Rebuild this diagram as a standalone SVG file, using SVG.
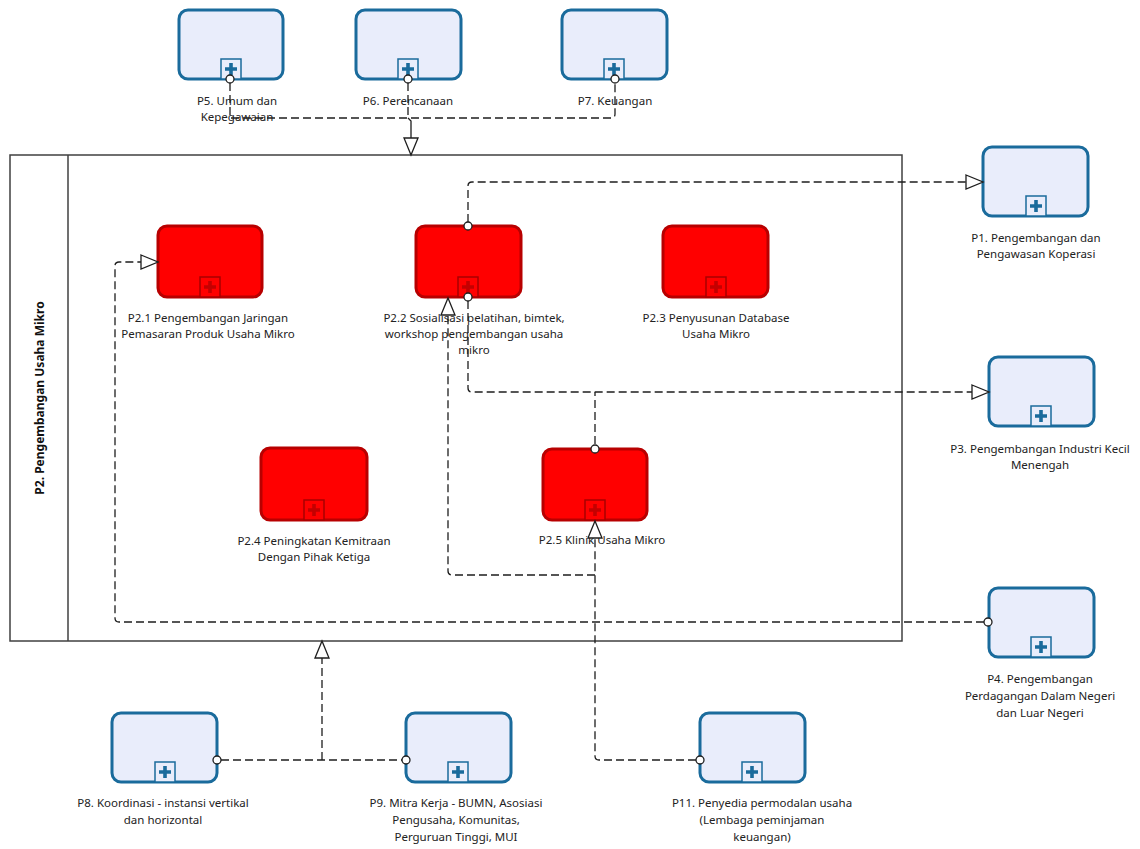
<svg xmlns="http://www.w3.org/2000/svg" xmlns:xlink="http://www.w3.org/1999/xlink" width="1140" height="849" viewBox="0 0 1140 849">
<style>
.bn{fill:#e9edfb;stroke:#1a6b9c;stroke-width:3}
.rn{fill:#ff0000;stroke:#b80000;stroke-width:3}
.lbl{font-family:"Noto Sans","Open Sans",sans-serif;font-size:11.5px;fill:#222;text-anchor:middle}
.cn{fill:none;stroke:#1e1e1e;stroke-width:1.3;stroke-dasharray:8,4}
.sl{fill:none;stroke:#1e1e1e;stroke-width:1.3}
.dot{fill:#fff;stroke:#1e1e1e;stroke-width:1.3}
.pool{fill:#fff;stroke:#404040;stroke-width:1.5}
</style>
<defs>
<marker id="arr" markerUnits="userSpaceOnUse" markerWidth="20" markerHeight="16" viewBox="0 0 20 16" refX="18" refY="8" orient="auto">
<path d="M1,1 L18,8 L1,15 Z" fill="#fff" stroke="#1e1e1e" stroke-width="1.3"/>
</marker>
<g id="mb">
<rect x="-10" y="-20" width="20" height="20" fill="#e9edfb" stroke="#1a6b9c" stroke-width="1.5"/>
<path d="M-1.8,-16 h3.6 v4.2 h4.2 v3.6 h-4.2 v4.2 h-3.6 v-4.2 h-4.2 v-3.6 h4.2 z" fill="#1a6b9c"/>
</g>
<g id="mr">
<rect x="-10" y="-20" width="20" height="20" fill="#ff0000" stroke="#a80000" stroke-width="1.5"/>
<path d="M-1.8,-16 h3.6 v4.2 h4.2 v3.6 h-4.2 v4.2 h-3.6 v-4.2 h-4.2 v-3.6 h4.2 z" fill="#c40000"/>
</g>
</defs>
<rect width="1140" height="849" fill="#fff"/>

<g id="pool">
<rect class="pool" x="10" y="155" width="892" height="486"/>
<line x1="68" y1="155" x2="68" y2="641" stroke="#404040" stroke-width="1.5"/>
<text transform="translate(44,398) rotate(-90)" font-family="'Noto Sans','Open Sans',sans-serif" font-size="12px" font-weight="bold" fill="#111" text-anchor="middle">P2. Pengembangan  Usaha Mikro</text>
</g>

<g id="P5"><rect class="bn" x="179" y="10" width="104" height="69" rx="9"/><use xlink:href="#mb" x="231" y="79"/>
<text class="lbl" x="237" y="105">P5. Umum dan</text><text class="lbl" x="237" y="121">Kepegawaian</text></g>
<g id="P6"><rect class="bn" x="356" y="10" width="105" height="69" rx="9"/><use xlink:href="#mb" x="408" y="79"/>
<text class="lbl" x="408" y="105">P6. Perencanaan</text></g>
<g id="P7"><rect class="bn" x="562" y="10" width="105" height="69" rx="9"/><use xlink:href="#mb" x="614" y="79"/>
<text class="lbl" x="615" y="105">P7. Keuangan</text></g>

<g id="P1"><rect class="bn" x="983" y="147" width="105" height="69" rx="9"/><use xlink:href="#mb" x="1036" y="216"/>
<text class="lbl" x="1036" y="242">P1. Pengembangan dan</text><text class="lbl" x="1036" y="258">Pengawasan Koperasi</text></g>
<g id="P3"><rect class="bn" x="989" y="357" width="105" height="69" rx="9"/><use xlink:href="#mb" x="1041" y="426"/>
<text class="lbl" x="1040" y="453">P3. Pengembangan Industri Kecil</text><text class="lbl" x="1040" y="469">Menengah</text></g>
<g id="P4"><rect class="bn" x="989" y="588" width="105" height="69" rx="9"/><use xlink:href="#mb" x="1041" y="657"/>
<text class="lbl" x="1040" y="683">P4. Pengembangan</text><text class="lbl" x="1040" y="700">Perdagangan Dalam Negeri</text><text class="lbl" x="1040" y="717">dan Luar Negeri</text></g>

<g id="P8"><rect class="bn" x="112" y="713" width="105" height="69" rx="9"/><use xlink:href="#mb" x="165" y="782"/>
<text class="lbl" x="163" y="807">P8. Koordinasi - instansi vertikal</text><text class="lbl" x="163" y="824">dan horizontal</text></g>
<g id="P9"><rect class="bn" x="406" y="713" width="105" height="69" rx="9"/><use xlink:href="#mb" x="458" y="782"/>
<text class="lbl" x="456" y="807">P9. Mitra Kerja - BUMN, Asosiasi</text><text class="lbl" x="456" y="824">Pengusaha, Komunitas,</text><text class="lbl" x="456" y="841">Perguruan Tinggi, MUI</text></g>
<g id="P11"><rect class="bn" x="700" y="713" width="105" height="69" rx="9"/><use xlink:href="#mb" x="752" y="782"/>
<text class="lbl" x="762" y="807">P11. Penyedia permodalan usaha</text><text class="lbl" x="762" y="824">(Lembaga peminjaman</text><text class="lbl" x="762" y="841">keuangan)</text></g>

<g id="P2_1"><rect class="rn" x="158" y="226" width="104" height="71" rx="9"/><use xlink:href="#mr" x="210" y="297"/>
<text class="lbl" x="208" y="322">P2.1 Pengembangan Jaringan</text><text class="lbl" x="208" y="338">Pemasaran Produk Usaha Mikro</text></g>
<g id="P2_2"><rect class="rn" x="416" y="226" width="105" height="71" rx="9"/><use xlink:href="#mr" x="468" y="297"/>
<text class="lbl" x="474" y="322">P2.2 Sosialisasi pelatihan, bimtek,</text><text class="lbl" x="474" y="338">workshop pengembangan usaha</text><text class="lbl" x="474" y="354">mikro</text></g>
<g id="P2_3"><rect class="rn" x="663" y="226" width="105" height="71" rx="9"/><use xlink:href="#mr" x="716" y="297"/>
<text class="lbl" x="716" y="322">P2.3 Penyusunan Database</text><text class="lbl" x="716" y="338">Usaha Mikro</text></g>
<g id="P2_4"><rect class="rn" x="261" y="448" width="106" height="72" rx="9"/><use xlink:href="#mr" x="314" y="520"/>
<text class="lbl" x="314" y="545">P2.4 Peningkatan Kemitraan</text><text class="lbl" x="314" y="561">Dengan Pihak Ketiga</text></g>
<g id="P2_5"><rect class="rn" x="543" y="449" width="104" height="71" rx="9"/><use xlink:href="#mr" x="595" y="520"/>
<text class="lbl" x="602" y="544">P2.5 Klinik Usaha Mikro</text></g>

<g id="connectors">
<path class="cn" d="M230,83 V118 H611 Q615,118 615,114 V83"/>
<path class="cn" d="M408,83 V118"/>
<path class="sl" d="M408,118 L411,121 V155" marker-end="url(#arr)"/>
<path class="cn" d="M468,222 V186 Q468,182 472,182 H983" marker-end="url(#arr)"/>
<path class="cn" d="M468,301 V388 Q468,392 472,392 H989" marker-end="url(#arr)"/>
<path class="cn" d="M595,444 V392"/>
<path class="cn" d="M984,622 H119 Q115,622 115,618 V266 Q115,262 119,262 H158" marker-end="url(#arr)"/>
<path class="cn" d="M696,760 H599 Q595,760 595,756 V521" marker-end="url(#arr)"/>
<path class="cn" d="M595,575 H452 Q448,575 448,571 V298" marker-end="url(#arr)"/>
<path class="cn" d="M221,760 H402"/>
<path class="cn" d="M322,760 V641" marker-end="url(#arr)"/>
<circle class="dot" cx="230" cy="79" r="4"/>
<circle class="dot" cx="408" cy="79" r="4"/>
<circle class="dot" cx="615" cy="79" r="4"/>
<circle class="dot" cx="468" cy="226" r="4"/>
<circle class="dot" cx="468" cy="297" r="4"/>
<circle class="dot" cx="595" cy="449" r="4"/>
<circle class="dot" cx="988" cy="622" r="4"/>
<circle class="dot" cx="700" cy="760" r="4"/>
<circle class="dot" cx="217" cy="760" r="4"/>
<circle class="dot" cx="406" cy="760" r="4"/>
</g>
</svg>
